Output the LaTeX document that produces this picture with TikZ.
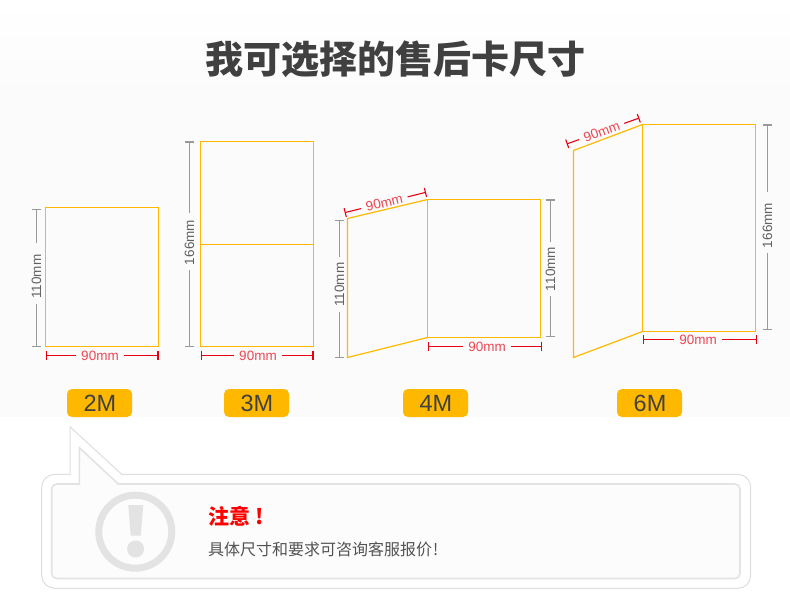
\documentclass[tikz,border=0pt]{standalone}
\usepackage{fontspec}
\setmainfont{Liberation Sans}
\newfontfamily\cjk{Noto Sans CJK SC}
\usepackage{xcolor}
\usetikzlibrary{arrows.meta}
\definecolor{cardyellow}{HTML}{FFB800}
\definecolor{dimred}{HTML}{E60012}
\definecolor{darktext}{HTML}{404040}
\begin{document}
\begin{tikzpicture}[
						x=1pt, y=-1pt,
						% Card outlines
						card_line/.style={
							draw=cardyellow, line width=1.2pt, line join=miter
						},
						% Grey measure line with its label
						dim_grey/.style={
							draw=gray!80, line width=1.2pt
						},
						label_grey/.style={
							font=\fontsize{13.5}{14}\selectfont, text=black!62, rotate=90,
							inner xsep=5pt, inner ysep=0pt
						},
						% Red measure line with its label
						dim_red/.style={
							draw=dimred, line width=1.1pt
						},
						label_red/.style={
							font=\fontsize{13.5}{14}\selectfont, text=dimred!72,
							inner xsep=5pt, inner ysep=0pt
						},
						start_bar/.style={{Bar[width=9pt,length=1pt]}-},
						end_bar/.style={-{Bar[width=9pt,length=1pt]}},
						% Size badge under each card
						size_badge/.style={
							fill=cardyellow, rounded corners=5pt, minimum width=65pt, minimum height=28pt,
							inner sep=0pt, text=darktext, font=\fontsize{23.5}{24}\selectfont
						},
						% Speech bubble outlines
						bubble_outer/.style={
							draw=black!13, line width=1pt, line join=miter
						},
						bubble_inner/.style={
							draw=black!11, line width=1.6pt, fill=black!1, line join=miter
						}
						]
						\useasboundingbox (0,0) rectangle (790,612);
						
						% --- Background ---
						\fill[white] (0,0) rectangle (790,612);
						\shade[top color=white, bottom color=black!1.6] (0,0) rectangle (790,100);
						\fill[black!1.6] (0,100) rectangle (790,417);
						
						\node[text=darktext, font=\cjk\bfseries\fontsize{38}{40}\selectfont] (title) at (395.5,59) {我可选择的售后卡尺寸};
						
						% --- 2M ---
						\draw[card_line] (45.5,207.5) rectangle (158.5,346.5);
						\coordinate (g2a) at (36.5,209);
						\coordinate (g2b) at (36.5,347);
						\node[label_grey] (g2t) at (36.5,276.7) {110mm};
						\draw[dim_grey, start_bar, shorten >=6pt] (g2a) -- (g2t);
						\draw[dim_grey, end_bar] (g2t) -- (g2b);
						\coordinate (r2a) at (45.5,355.5);
						\coordinate (r2b) at (158.5,355.5);
						\node[label_red] (r2t) at (100,356) {90mm};
						\draw[dim_red, start_bar] (r2a) -- (r2a -| r2t.west);
						\draw[dim_red, end_bar] (r2b -| r2t.east) -- (r2b);
						\node[size_badge] (badge2) at (99.5,403) {\hspace{1pt}2M};
						
						% --- 3M ---
						\draw[card_line] (200.5,141.5) rectangle (313.5,346.5);
						\draw[card_line] (200.5,244.5) -- (313.5,244.5);
						\coordinate (g3a) at (189.5,141.5);
						\coordinate (g3b) at (189.5,347);
						\node[label_grey] (g3t) at (189.5,242.5) {166mm};
						\draw[dim_grey, start_bar, shorten >=2pt] (g3a) -- (g3t);
						\draw[dim_grey, end_bar] (g3t) -- (g3b);
						\coordinate (r3a) at (200.5,355.5);
						\coordinate (r3b) at (313.5,355.5);
						\node[label_red] (r3t) at (258,356) {90mm};
						\draw[dim_red, start_bar] (r3a) -- (r3a -| r3t.west);
						\draw[dim_red, end_bar] (r3b -| r3t.east) -- (r3b);
						\node[size_badge] (badge3) at (256.5,403) {\hspace{1pt}3M};
						
						% --- 4M ---
						\draw[card_line] (427.5,199.5) -- (347.5,218.5) -- (347.5,357.5) -- (427.5,337.5);
						\draw[card_line] (427.5,199.5) rectangle (540.5,337.5);
						\coordinate (g4a) at (339.5,220);
						\coordinate (g4b) at (339.5,358);
						\node[label_grey] (g4t) at (339.5,284.7) {110mm};
						\draw[dim_grey, start_bar] (g4a) -- (g4t);
						\draw[dim_grey, end_bar] (g4t) -- (g4b);
						\coordinate (g5a) at (550.5,199.5);
						\coordinate (g5b) at (550.5,337.5);
						\node[label_grey] (g5t) at (550.5,269) {110mm};
						\draw[dim_grey, start_bar] (g5a) -- (g5t);
						\draw[dim_grey, end_bar] (g5t) -- (g5b);
						\coordinate (s4a) at (344.7,212.7);
						\coordinate (s4b) at (426,192.3);
						\node[label_red, rotate=14] (s4t) at (384.3,202.7) {90mm};
						\draw[dim_red, start_bar] (s4a) -- (s4t);
						\draw[dim_red, end_bar] (s4t) -- (s4b);
						\coordinate (r4a) at (428.3,346.5);
						\coordinate (r4b) at (541.7,346.5);
						\node[label_red] (r4t) at (487,347) {90mm};
						\draw[dim_red, start_bar] (r4a) -- (r4a -| r4t.west);
						\draw[dim_red, end_bar] (r4b -| r4t.east) -- (r4b);
						\node[size_badge] (badge4) at (435.5,403) {\hspace{1pt}4M};
						
						% --- 6M ---
						\draw[card_line] (642.5,124.5) -- (573.5,150.5) -- (573.5,357.5) -- (642.5,331.5);
						\draw[card_line] (642.5,124.5) rectangle (755.5,331.5);
						\coordinate (g6a) at (767.5,124.5);
						\coordinate (g6b) at (767.5,330.5);
						\node[label_grey] (g6t) at (767.5,225.5) {166mm};
						\draw[dim_grey, start_bar, shorten >=6pt] (g6a) -- (g6t);
						\draw[dim_grey, end_bar] (g6t) -- (g6b);
						\coordinate (s6a) at (566.7,144);
						\coordinate (s6b) at (639.3,118);
						\node[label_red, rotate=20] (s6t) at (601.7,131.5) {90mm};
						\draw[dim_red, start_bar] (s6a) -- (s6t);
						\draw[dim_red, end_bar] (s6t) -- (s6b);
						\coordinate (r6a) at (643.3,339.5);
						\coordinate (r6b) at (756.7,339.5);
						\node[label_red] (r6t) at (698,340) {90mm};
						\draw[dim_red, start_bar] (r6a) -- (r6a -| r6t.west);
						\draw[dim_red, end_bar] (r6b -| r6t.east) -- (r6b);
						\node[size_badge] (badge6) at (649.5,403) {\hspace{1pt}6M};
						
						% --- Speech bubble ---
						\draw[bubble_outer] (70,474.3) -- (70,426.7) -- (121.7,474.3) -- (737.7,474.3)
						arc[start angle=-90, end angle=0, radius=13] -- (750.7,575.3)
						arc[start angle=0, end angle=90, radius=13] -- (54.7,588.3)
						arc[start angle=90, end angle=180, radius=13] -- (41.7,487.3)
						arc[start angle=180, end angle=270, radius=13] -- cycle;
						\draw[bubble_inner] (79.3,484) -- (79.3,447.7) -- (118.3,484) -- (735,484)
						arc[start angle=-90, end angle=0, radius=5] -- (740,573.5)
						arc[start angle=0, end angle=90, radius=5] -- (56.7,578.5)
						arc[start angle=90, end angle=180, radius=5] -- (51.7,489)
						arc[start angle=180, end angle=270, radius=5] -- cycle;
						
						% Warning sign
						\draw[draw=black!11, line width=7pt] (135.3,531.7) circle (36.5);
						\fill[black!11] (128.3,505) -- (143.3,505) -- (140.7,535.7) -- (130.7,535.7) -- cycle;
						\fill[black!11] (135.6,549) circle (8.5);
						
						\node[anchor=west, inner sep=0pt, text=red, font=\cjk\bfseries\fontsize{21}{22}\selectfont] (notice) at (208.5,516.5) {注意\hspace{5pt}!};
						\node[anchor=west, inner sep=0pt, text=black!68, font=\cjk\fontsize{16}{18}\selectfont] (noticetext) at (208,549) {具体尺寸和要求可咨询客服报价\hspace{1pt}!};
						
					\end{tikzpicture}
\end{document}
